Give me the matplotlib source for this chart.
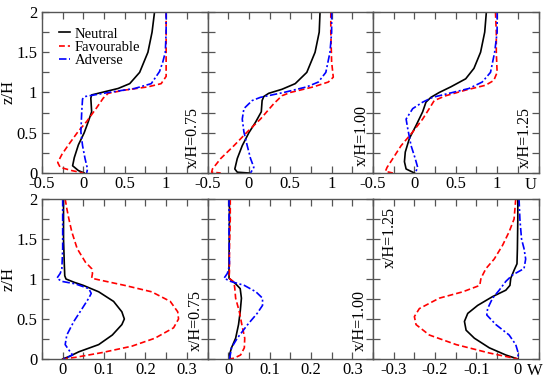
import numpy as np
import matplotlib
matplotlib.use('Agg')
import matplotlib.pyplot as plt
from matplotlib.ticker import MultipleLocator, FixedLocator, FormatStrFormatter

plt.rcParams['font.family'] = ['Liberation Serif', 'DejaVu Serif']
plt.rcParams['font.size'] = 10
plt.rcParams['axes.unicode_minus'] = False

# ---- U profiles (top row) ----
# x/H = 0.75
u075_neu_z = [2.0, 1.75, 1.5, 1.25, 1.11, 1.05, 1.0, 0.97, 0.93, 0.76, 0.64, 0.5, 0.35, 0.19, 0.09, 0.03, 0.0]
u075_neu = [0.86, 0.83, 0.78, 0.68, 0.56, 0.42, 0.22, 0.10, 0.09, 0.10, 0.06, 0.01, -0.06, -0.11, -0.13, -0.06, 0.01]
u075_fav_z = [2.0, 1.75, 1.5, 1.2, 1.11, 1.07, 1.03, 0.99, 0.93, 0.81, 0.64, 0.52, 0.35, 0.23, 0.13, 0.07, 0.03, 0.0]
u075_fav = [1.0, 1.0, 1.0, 1.0, 0.94, 0.78, 0.5, 0.3, 0.24, 0.16, 0.04, -0.06, -0.18, -0.26, -0.31, -0.28, -0.14, 0.0]
u075_adv_z = [2.0, 1.75, 1.5, 1.38, 1.26, 1.11, 1.05, 1.0, 0.95, 0.92, 0.76, 0.51, 0.34, 0.18, 0.05, 0.0]
u075_adv = [1.0, 1.0, 0.99, 0.96, 0.92, 0.82, 0.62, 0.3, 0.02, -0.01, -0.02, -0.03, -0.01, 0.02, 0.05, 0.04]

# x/H = 1.00
u100_neu_z = [2.0, 1.75, 1.5, 1.25, 1.11, 1.04, 0.99, 0.95, 0.90, 0.76, 0.63, 0.5, 0.34, 0.18, 0.05, 0.01, 0.0]
u100_neu = [0.86, 0.85, 0.80, 0.70, 0.56, 0.40, 0.24, 0.18, 0.16, 0.15, 0.08, 0.0, -0.08, -0.14, -0.17, -0.14, 0.0]
u100_fav_z = [2.0, 1.75, 1.38, 1.19, 1.13, 1.07, 1.0, 0.96, 0.86, 0.67, 0.51, 0.34, 0.18, 0.05, 0.01, 0.0]
u100_fav = [0.99, 0.99, 1.0, 1.02, 0.96, 0.78, 0.5, 0.4, 0.3, 0.14, -0.02, -0.18, -0.34, -0.44, -0.45, -0.34]
u100_adv_z = [2.0, 1.75, 1.5, 1.25, 1.13, 1.07, 1.0, 0.94, 0.90, 0.80, 0.67, 0.51, 0.34, 0.18, 0.07, 0.0]
u100_adv = [1.0, 1.0, 0.98, 0.93, 0.84, 0.70, 0.42, 0.14, 0.04, -0.06, -0.08, -0.06, -0.02, 0.02, 0.06, 0.02]

# x/H = 1.25
u125_neu_z = [2.0, 1.75, 1.5, 1.30, 1.17, 1.07, 1.0, 0.94, 0.88, 0.76, 0.59, 0.43, 0.26, 0.14, 0.05, 0.0]
u125_neu = [0.87, 0.85, 0.80, 0.72, 0.62, 0.44, 0.30, 0.20, 0.14, 0.10, 0.02, -0.06, -0.11, -0.12, -0.10, 0.0]
u125_fav_z = [2.0, 1.75, 1.5, 1.25, 1.15, 1.09, 1.03, 0.96, 0.90, 0.80, 0.67, 0.51, 0.34, 0.18, 0.07, 0.02, 0.0]
u125_fav = [0.98, 0.99, 0.99, 1.0, 0.96, 0.86, 0.62, 0.38, 0.24, 0.18, 0.10, -0.02, -0.16, -0.26, -0.33, -0.35, -0.26]
u125_adv_z = [2.0, 1.75, 1.5, 1.25, 1.13, 1.05, 1.0, 0.94, 0.88, 0.80, 0.67, 0.55, 0.34, 0.18, 0.07, 0.0]
u125_adv = [1.0, 1.0, 0.97, 0.92, 0.82, 0.66, 0.46, 0.22, 0.10, -0.02, -0.10, -0.08, -0.04, 0.01, 0.04, 0.01]

# ---- W profiles (bottom row) ----
w075_neu_z = [2.0, 1.75, 1.5, 1.17, 1.04, 1.0, 0.96, 0.92, 0.84, 0.72, 0.59, 0.5, 0.43, 0.30, 0.18, 0.09, 0.03, 0.0]
w075_neu = [0.002, 0.002, 0.002, 0.004, 0.005, 0.008, 0.027, 0.05, 0.087, 0.123, 0.143, 0.149, 0.143, 0.12, 0.087, 0.039, 0.015, 0.0]
w075_fav_z = [2.0, 1.88, 1.75, 1.59, 1.38, 1.21, 1.13, 1.07, 1.01, 0.99, 0.92, 0.84, 0.72, 0.59, 0.5, 0.39, 0.26, 0.16, 0.08, 0.02, 0.0]
w075_fav = [0.006, 0.01, 0.015, 0.022, 0.035, 0.055, 0.07, 0.072, 0.07, 0.087, 0.15, 0.215, 0.26, 0.278, 0.28, 0.268, 0.223, 0.167, 0.095, 0.03, 0.0]
w075_adv_z = [2.0, 1.75, 1.38, 1.13, 1.07, 1.01, 0.97, 0.94, 0.88, 0.82, 0.76, 0.63, 0.47, 0.30, 0.18, 0.09, 0.05, 0.0]
w075_adv = [0.0, 0.0, 0.0, -0.002, -0.006, -0.014, -0.002, 0.03, 0.063, 0.069, 0.063, 0.047, 0.027, 0.01, 0.006, 0.018, 0.024, 0.002]

w100_neu_z = [2.0, 1.75, 1.17, 1.01, 0.94, 0.88, 0.76, 0.59, 0.43, 0.26, 0.14, 0.05, 0.0]
w100_neu = [0.003, 0.003, 0.002, 0.002, 0.018, 0.029, 0.032, 0.029, 0.025, 0.018, 0.008, 0.003, 0.005]
w100_fav_z = [2.0, 1.75, 1.38, 1.09, 1.01, 0.96, 0.88, 0.76, 0.59, 0.43, 0.26, 0.14, 0.05, 0.01, 0.0]
w100_fav = [0.005, 0.005, 0.003, 0.003, 0.002, 0.014, 0.016, 0.018, 0.027, 0.033, 0.04, 0.039, 0.03, 0.014, 0.003]
w100_adv_z = [2.0, 1.59, 1.17, 1.07, 1.01, 0.97, 0.92, 0.84, 0.76, 0.67, 0.57, 0.43, 0.26, 0.14, 0.05, 0.0]
w100_adv = [0.002, 0.002, 0.003, -0.002, -0.01, 0.006, 0.039, 0.067, 0.083, 0.083, 0.07, 0.047, 0.022, 0.008, 0.005, 0.003]

w125_neu_z = [2.0, 1.75, 1.38, 1.19, 1.11, 1.01, 0.92, 0.86, 0.78, 0.67, 0.57, 0.47, 0.36, 0.26, 0.14, 0.05, 0.0]
w125_neu = [0.0, 0.0, -0.001, -0.002, -0.009, -0.017, -0.019, -0.029, -0.061, -0.097, -0.121, -0.129, -0.125, -0.105, -0.069, -0.029, 0.0]
w125_fav_z = [2.0, 1.75, 1.59, 1.42, 1.25, 1.13, 1.01, 0.92, 0.84, 0.76, 0.63, 0.53, 0.43, 0.30, 0.18, 0.075, 0.0]
w125_fav = [-0.005, -0.009, -0.021, -0.037, -0.057, -0.077, -0.089, -0.092, -0.133, -0.19, -0.238, -0.25, -0.246, -0.214, -0.149, -0.069, 0.0]
w125_adv_z = [2.0, 1.75, 1.5, 1.38, 1.25, 1.13, 1.05, 0.97, 0.86, 0.76, 0.63, 0.55, 0.43, 0.30, 0.18, 0.075, 0.0]
w125_adv = [0.003, 0.005, 0.009, 0.015, 0.019, 0.015, -0.013, -0.029, -0.045, -0.061, -0.073, -0.075, -0.053, -0.021, -0.005, 0.001, 0.0]

stations = ['x/H=0.75', 'x/H=1.00', 'x/H=1.25']
labels = ['Neutral', 'Favourable', 'Adverse']

top_data = [
    [(u075_neu, u075_neu_z), (u075_fav, u075_fav_z), (u075_adv, u075_adv_z)],
    [(u100_neu, u100_neu_z), (u100_fav, u100_fav_z), (u100_adv, u100_adv_z)],
    [(u125_neu, u125_neu_z), (u125_fav, u125_fav_z), (u125_adv, u125_adv_z)],
]
bot_data = [
    [(w075_neu, w075_neu_z), (w075_fav, w075_fav_z), (w075_adv, w075_adv_z)],
    [(w100_neu, w100_neu_z), (w100_fav, w100_fav_z), (w100_adv, w100_adv_z)],
    [(w125_neu, w125_neu_z), (w125_fav, w125_fav_z), (w125_adv, w125_adv_z)],
]

styles = [
    dict(color='black', linestyle='-'),
    dict(color='red', linestyle=(0, (3.5, 1.8))),
    dict(color='blue', linestyle=(0, (4.5, 1.5, 1.2, 1.5))),
]

SPINE = '#555555'

fig = plt.figure(figsize=(5.5, 3.83), dpi=100)

left0 = 42 / 550
pw = 165.5 / 550
top_box = (1 - 173 / 383, 161 / 383)
bot_box = (1 - 359 / 383, 160 / 383)

top_xlims = [(-0.5, 1.5)] * 3
bot_xlims = [(-0.05, 0.35), (-0.05, 0.35), (-0.35, 0.05)]
top_ticks = [[-0.5, 0, 0.5, 1]] * 3
bot_ticks = [[0, 0.1, 0.2, 0.3], [0, 0.1, 0.2, 0.3], [-0.3, -0.2, -0.1, 0]]

# station label positions in axes fraction
top_lbl = [(0.91, 0.22), (0.93, 0.235), (0.92, 0.22)]
bot_lbl = [(0.93, 0.24), (0.92, 0.24), (0.10, 0.76)]


def style_axis(ax, xlim, xticks, minor):
    ax.set_xlim(*xlim)
    ax.set_ylim(0, 2)
    ax.xaxis.set_major_locator(FixedLocator(xticks))
    ax.xaxis.set_minor_locator(MultipleLocator(minor))
    ax.yaxis.set_major_locator(MultipleLocator(0.5))
    ax.yaxis.set_minor_locator(MultipleLocator(0.25))
    ax.xaxis.set_major_formatter(FormatStrFormatter('%g'))
    ax.yaxis.set_major_formatter(FormatStrFormatter('%g'))
    ax.tick_params(which='both', direction='in', top=True, right=True,
                   color=SPINE, labelsize=12)
    ax.tick_params(axis='x', pad=2.5)
    ax.tick_params(axis='y', pad=3.5)
    ax.tick_params(which='major', length=5, width=0.9)
    ax.tick_params(which='minor', length=5, width=0.9)
    for s in ax.spines.values():
        s.set_color(SPINE)
        s.set_linewidth(1.0)


for i in range(3):
    ax = fig.add_axes([left0 + i * pw, top_box[0], pw, top_box[1]])
    for (x, z), st, lab in zip(top_data[i], styles, labels):
        ax.plot(x, z, lw=1.2, label=lab, **st)
    style_axis(ax, top_xlims[i], top_ticks[i], 0.25)
    ax.text(*top_lbl[i], stations[i], transform=ax.transAxes, rotation=90,
            ha='center', va='center', fontsize=11.5)
    if i == 0:
        ax.set_ylabel('z/H', fontsize=12, labelpad=0)
        ax.legend(loc='upper left', bbox_to_anchor=(0.1, 0.905), frameon=False,
                  handlelength=0.8, handletextpad=0.3, labelspacing=0.0,
                  borderaxespad=0, borderpad=0, fontsize=10.5)
    else:
        ax.tick_params(labelleft=False)
    if i == 2:
        ax.text(0.955, -0.075, 'U', transform=ax.transAxes, ha='center',
                va='center', fontsize=12)

for i in range(3):
    ax = fig.add_axes([left0 + i * pw, bot_box[0], pw, bot_box[1]])
    for (x, z), st, lab in zip(bot_data[i], styles, labels):
        ax.plot(x, z, lw=1.2, label=lab, **st)
    style_axis(ax, bot_xlims[i], bot_ticks[i], 0.05)
    ax.text(*bot_lbl[i], stations[i], transform=ax.transAxes, rotation=90,
            ha='center', va='center', fontsize=11.5)
    if i == 0:
        ax.set_ylabel('z/H', fontsize=12, labelpad=0)
    else:
        ax.tick_params(labelleft=False)
    if i == 2:
        ax.text(0.975, -0.075, 'W', transform=ax.transAxes, ha='center',
                va='center', fontsize=12)

fig.savefig('out.png', dpi=100)
